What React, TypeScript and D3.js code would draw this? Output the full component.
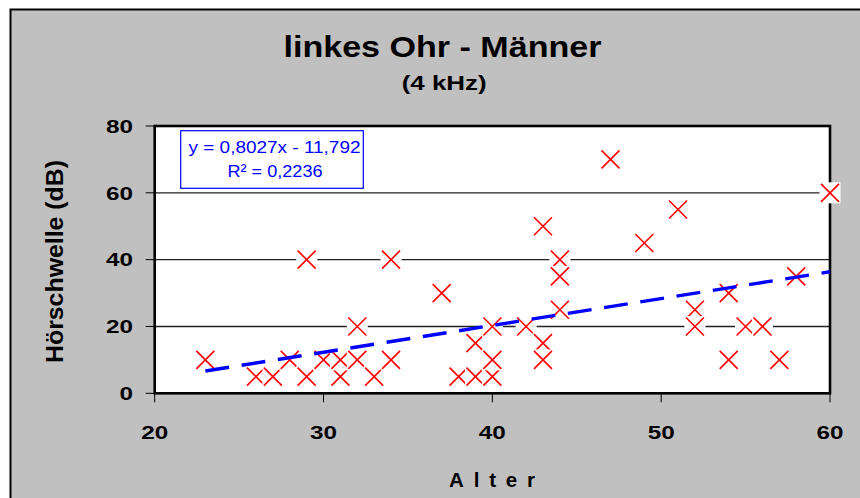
import React from "react";
import * as d3 from "d3";

const ages = [23, 26, 27, 28, 29, 29, 30, 31, 31, 32, 32, 33, 34, 34, 37, 38, 39, 39, 40, 40, 40, 42, 43, 43, 43, 44, 44, 44, 47, 49, 51, 52, 52, 54, 54, 55, 56, 57, 58, 60];
const thresholds = [10, 5, 5, 10, 5, 40, 10, 5, 10, 10, 20, 5, 10, 40, 30, 5, 5, 15, 5, 10, 20, 20, 50, 15, 10, 40, 35, 25, 70, 45, 55, 25, 20, 30, 10, 20, 20, 10, 35, 60];
const xTicks = [20, 30, 40, 50, 60];
const yTicks = [0, 20, 40, 60, 80];
const gridValues = [20, 40, 60];
const slope = 0.8027;
const intercept = -11.792;
const title = "linkes Ohr - Männer";
const subtitle = "(4 kHz)";
const xLabel = "Alter";
const yLabel = "Hörschwelle (dB)";
const eqLine1 = "y = 0,8027x - 11,792";
const eqLine2 = "R² = 0,2236";

const W = 860;
const H = 498;
const L = 154.7, R = 830, T = 126, B = 393.3;
const FONT = "'Liberation Sans', Arial, sans-serif";

export default function App() {
  const x = d3.scaleLinear().domain([20, 60]).range([L, R]);
  const y = d3.scaleLinear().domain([0, 80]).range([B, T]);
  const points = ages.map((a, i) => ({ a, v: thresholds[i] }));
  const xExt = d3.extent(ages) as [number, number];
  const trend = d3.line<number>().x((d) => x(d)).y((d) => y(slope * d + intercept))(xExt) as string;
  const ms = 9; // cross half-size
  const bs = 10.5; // background half-size

  return (
    <div style={{ position: "fixed", left: 0, top: 0 }}>
      <svg width={W} height={H} style={{ display: "block" }} fontFamily={FONT}>
        <rect x={0} y={0} width={W} height={H} fill="#ffffff" />
        <rect x={10.5} y={9.5} width={W + 20} height={H + 20} fill="#c0c0c0" stroke="#000" strokeWidth={2} />
        {/* titles */}
        <text x={442.5} y={56.7} fontSize={30} fontWeight="bold" textAnchor="middle" textLength={318} lengthAdjust="spacingAndGlyphs">{title}</text>
        <text x={444.2} y={90} fontSize={20} fontWeight="bold" textAnchor="middle" textLength={85} lengthAdjust="spacingAndGlyphs">{subtitle}</text>
        {/* plot area */}
        <rect x={L} y={T} width={R - L} height={B - T} fill="#ffffff" />
        {gridValues.map((g) => (
          <line key={g} x1={L} x2={R} y1={y(g)} y2={y(g)} stroke="#222" strokeWidth={1.3} />
        ))}
        <rect x={L} y={T} width={R - L} height={B - T} fill="none" stroke="#000" strokeWidth={2.6} />
        {/* y ticks */}
        {yTicks.map((t) => (
          <g key={t}>
            <line x1={L - 9} x2={L} y1={y(t)} y2={y(t)} stroke="#000" strokeWidth={1} />
            <text x={133} y={y(t) + 6.8} fontSize={19} fontWeight="bold" textAnchor="end" textLength={t === 0 ? 13.5 : 27} lengthAdjust="spacingAndGlyphs">{t}</text>
          </g>
        ))}
        {/* x ticks */}
        {xTicks.map((t) => (
          <g key={t}>
            <line x1={x(t)} x2={x(t)} y1={B} y2={B + 9} stroke="#000" strokeWidth={1} />
            <text x={x(t)} y={439} fontSize={19} fontWeight="bold" textAnchor="middle" textLength={27} lengthAdjust="spacingAndGlyphs">{t}</text>
          </g>
        ))}
        <text x={492} y={487} fontSize={20.5} fontWeight="bold" textAnchor="middle" textLength={86} lengthAdjust="spacing">{xLabel}</text>
        <text transform={`translate(63.3,261.5) rotate(-90)`} fontSize={24} fontWeight="bold" textAnchor="middle" textLength={203} lengthAdjust="spacingAndGlyphs">{yLabel}</text>
        {/* markers */}
        {points.map((p, i) => {
          const cx = x(p.a), cy = y(p.v);
          return (
            <g key={i}>
              <rect x={cx - bs} y={cy - bs} width={bs * 2} height={bs * 2} fill="#ffffff" />
              <path d={`M${cx - ms},${cy - ms}L${cx + ms},${cy + ms}M${cx - ms},${cy + ms}L${cx + ms},${cy - ms}`} stroke="#ff0000" strokeWidth={1.6} fill="none" />
            </g>
          );
        })}
        {/* trendline */}
        <path d={trend} stroke="#0000ff" strokeWidth={3.4} fill="none" strokeDasharray="24 12.7" />
        {/* equation box */}
        <rect x={180.7} y={130.7} width={182.6} height={57.6} fill="#ffffff" stroke="#0000ff" strokeWidth={1.2} />
        <text x={274.5} y={153.3} fontSize={17} fill="#0000ff" textAnchor="middle" textLength={172} lengthAdjust="spacingAndGlyphs">{eqLine1}</text>
        <text x={275} y={176.7} fontSize={17} fill="#0000ff" textAnchor="middle" textLength={95} lengthAdjust="spacingAndGlyphs">{eqLine2}</text>
      </svg>
    </div>
  );
}
